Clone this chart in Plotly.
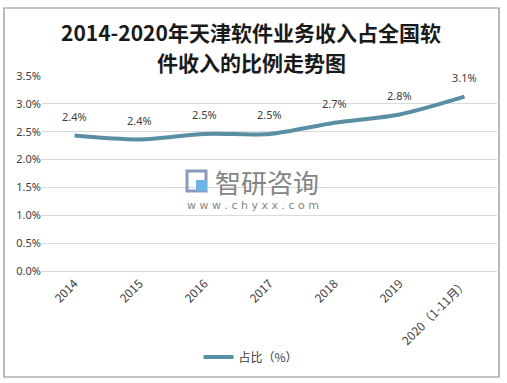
import plotly.graph_objects as go

categories = ["2014", "2015", "2016", "2017", "2018", "2019", "2020（1-11月）"]
values = [2.43, 2.36, 2.46, 2.46, 2.66, 2.81, 3.13]
labels = ["2.4%", "2.4%", "2.5%", "2.5%", "2.7%", "2.8%", "3.1%"]
y_ticks = [0, 0.5, 1.0, 1.5, 2.0, 2.5, 3.0, 3.5]
y_ticktext = ["0.0%", "0.5%", "1.0%", "1.5%", "2.0%", "2.5%", "3.0%", "3.5%"]
title_lines = ["2014-2020年天津软件业务收入占全国软", "件收入的比例走势图"]

W, H = 507, 383
L, R, T, B = 42, 10, 76, 112
pw, ph = W - L - R, H - T - B

def px_x(p):
    return (p - L) / pw

def px_y(p):
    return (H - B - p) / ph

idx = list(range(len(categories)))

fig = go.Figure()
fig.add_trace(go.Scatter(
    x=idx, y=values, mode="lines", name="占比（%）",
    line=dict(color="#5a8ea3", width=4, shape="spline", smoothing=0.8),
))

for i, v, t in zip(idx, values, labels):
    fig.add_annotation(x=i, y=v, text=t, showarrow=False, yshift=19,
                       font=dict(size=11, color="#404040", family="Noto Sans, sans-serif"))

# title (two lines)
for line, ypx in zip(title_lines, [32, 62]):
    fig.add_annotation(xref="paper", yref="paper", x=px_x(251), y=px_y(ypx), text="<b>" + line + "</b>",
                       showarrow=False, yanchor="middle",
                       font=dict(size=21, color="#1a1a1a", family="Noto Sans CJK SC"))

# watermark
fig.add_annotation(xref="paper", yref="paper", x=px_x(267), y=px_y(181), text="智研咨询",
                   showarrow=False, yanchor="middle",
                   font=dict(size=26, color="#858585", family="Noto Sans CJK SC"))
fig.add_annotation(xref="paper", yref="paper", x=px_x(253), y=px_y(205), text="w w w . c h y x x . c o m",
                   showarrow=False, yanchor="middle",
                   font=dict(size=11, color="#858585", family="DejaVu Sans"))
# logo icon
fig.add_shape(type="rect", xref="paper", yref="paper", x0=px_x(187), x1=px_x(206), y0=px_y(191), y1=px_y(171),
              line=dict(color="#8a9bbd", width=3), fillcolor="rgba(0,0,0,0)")
fig.add_shape(type="rect", xref="paper", yref="paper", x0=px_x(196), x1=px_x(207), y0=px_y(191), y1=px_y(180),
              line=dict(width=0), fillcolor="#6cb4e4")

# outer border
fig.add_shape(type="rect", xref="paper", yref="paper",
              x0=px_x(4), x1=px_x(499), y0=px_y(377), y1=px_y(8),
              line=dict(color="#8c8c8c", width=1.2), fillcolor="rgba(0,0,0,0)")

fig.update_layout(
    width=W, height=H,
    margin=dict(l=L, r=R, t=T, b=B, autoexpand=False),
    paper_bgcolor="white", plot_bgcolor="white",
    showlegend=True,
    legend=dict(orientation="h", xref="container", yref="container",
                x=251 / W, xanchor="center", y=1 - 357 / H, yanchor="middle",
                font=dict(size=12, color="#404040", family="Noto Sans CJK SC"),
                itemwidth=30),
    xaxis=dict(range=[-0.5, len(categories) - 0.5], tickvals=idx, ticktext=categories,
               tickangle=-45, showgrid=False, showline=True, zeroline=False,
               linecolor="#d9d9d9", ticks="",
               tickfont=dict(size=12, color="#404040", family="Noto Sans CJK SC")),
    yaxis=dict(range=[0, 3.5], tickvals=y_ticks, ticktext=y_ticktext, showgrid=True,
               gridcolor="#d9d9d9", zeroline=False, showline=False,
               tickfont=dict(size=11, color="#404040", family="Noto Sans, sans-serif")),
)

fig.write_html("out.html", config={"displayModeBar": False},
               post_script="document.body.style.margin='0';")
